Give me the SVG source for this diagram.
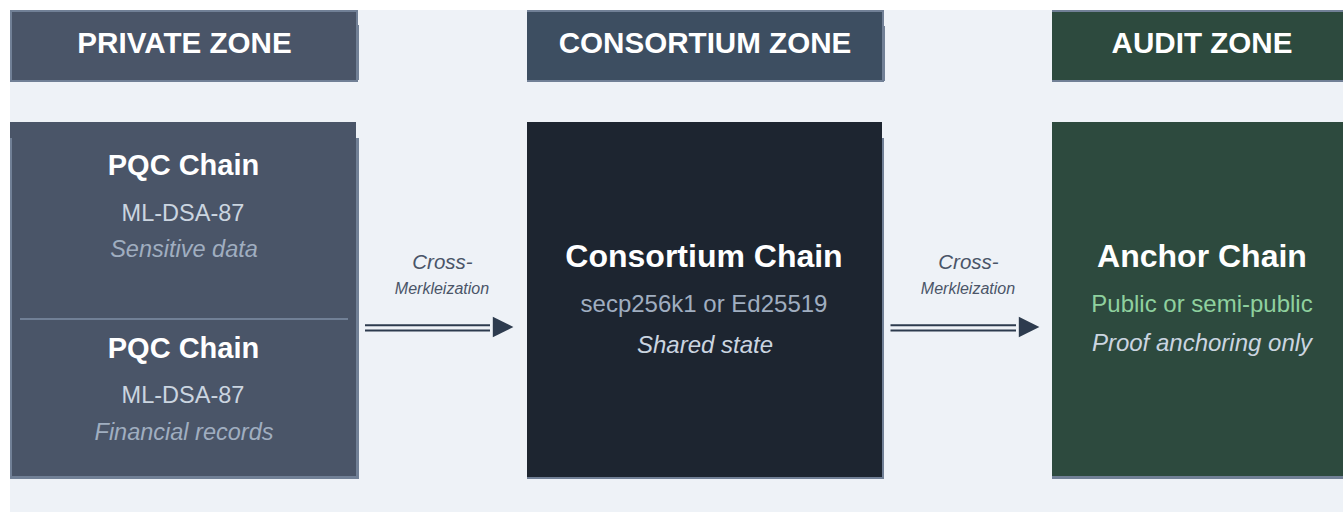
<svg xmlns="http://www.w3.org/2000/svg" width="1343" height="512" viewBox="0 0 1343 512">
  <style>
    text { font-family: "Liberation Sans", Arial, sans-serif; text-anchor: middle; }
    .zone { font-size: 29.6px; font-weight: bold; fill: #ffffff; }
    .title { font-weight: bold; fill: #ffffff; }
    .sub { fill: #cbd5e0; }
    .muted { fill: #a0aec0; }
    .note { font-style: italic; }
    .edge { stroke: #2d3b4e; stroke-width: 2; fill: none; }
    .edge-label { font-style: italic; fill: #4a5568; }
    .rim { fill: #718096; }
  </style>

  <!-- canvas -->
  <rect x="0" y="0" width="1343" height="512" fill="#ffffff"/>
  <rect x="10" y="10" width="1333" height="502" fill="#eef2f7"/>

  <!-- zone headers -->
  <g id="private-zone">
    <rect class="rim" x="10" y="10" width="348" height="72"/>
    <rect class="rim" x="356" y="25" width="3" height="55"/>
    <rect x="12" y="12" width="344" height="68" fill="#4a5568"/>
    <text class="zone" x="184.5" y="53">PRIVATE ZONE</text>
  </g>
  <g id="consortium-zone">
    <rect class="rim" x="527" y="10" width="357" height="72"/>
    <rect class="rim" x="882" y="26" width="3" height="55"/>
    <rect x="527" y="12" width="355" height="68" fill="#3d4e61"/>
    <text class="zone" x="705" y="53">CONSORTIUM ZONE</text>
  </g>
  <g id="audit-zone">
    <rect class="rim" x="1052" y="10" width="300" height="72"/>
    <rect x="1052" y="12" width="300" height="68" fill="#2d4a3e"/>
    <text class="zone" x="1202" y="53">AUDIT ZONE</text>
  </g>

  <!-- chain nodes -->
  <g id="pqc-chains">
    <rect class="rim" x="10" y="138" width="349" height="341"/>
    <rect x="10" y="122" width="346" height="16" fill="#4a5568"/>
    <rect x="12" y="138" width="344" height="338" fill="#4a5568"/>
    <text class="title" x="183.5" y="175" font-size="29">PQC Chain</text>
    <text class="sub" x="183" y="221" font-size="23.5">ML-DSA-87</text>
    <text class="muted note" x="184" y="257" font-size="23.5">Sensitive data</text>
    <rect class="rim" x="20" y="318" width="328" height="2"/>
    <text class="title" x="183.5" y="358" font-size="29">PQC Chain</text>
    <text class="sub" x="183" y="403" font-size="23.5">ML-DSA-87</text>
    <text class="muted note" x="184" y="440" font-size="23.5">Financial records</text>
  </g>
  <g id="consortium-chain">
    <rect class="rim" x="527" y="138" width="357" height="341"/>
    <rect x="527" y="122" width="355" height="355" fill="#1d2530"/>
    <text class="title" x="704" y="266.5" font-size="32">Consortium Chain</text>
    <text class="muted" x="704" y="311.5" font-size="24">secp256k1 or Ed25519</text>
    <text class="sub note" x="705" y="352.5" font-size="24">Shared state</text>
  </g>
  <g id="anchor-chain">
    <rect class="rim" x="1052" y="476" width="300" height="3"/>
    <rect x="1052" y="122" width="300" height="354" fill="#2d4a3e"/>
    <text class="title" x="1202" y="266.5" font-size="32">Anchor Chain</text>
    <text x="1202" y="311.5" font-size="24" fill="#8fd19e">Public or semi-public</text>
    <text class="sub note" x="1202" y="351" font-size="24">Proof anchoring only</text>
  </g>

  <!-- connectors: double shaft with solid head -->
  <g id="connectors">
    <g id="private-to-consortium">
      <text class="edge-label" x="442.5" y="268.5" font-size="20.5">Cross-</text>
      <text class="edge-label" x="442" y="294" font-size="16">Merkleization</text>
      <line class="edge" x1="365" y1="325.2" x2="490" y2="325.2"/>
      <line class="edge" x1="365" y1="330.5" x2="490" y2="330.5"/>
      <path d="M492.8,316.8 L513.4,327 L492.8,337.2 Z" fill="#2d3b4e"/>
    </g>
    <g id="consortium-to-anchor">
      <text class="edge-label" x="968.5" y="268.5" font-size="20.5">Cross-</text>
      <text class="edge-label" x="968" y="294" font-size="16">Merkleization</text>
      <line class="edge" x1="890.5" y1="325.2" x2="1016" y2="325.2"/>
      <line class="edge" x1="890.5" y1="330.5" x2="1016" y2="330.5"/>
      <path d="M1018.8,316.8 L1039.4,327 L1018.8,337.2 Z" fill="#2d3b4e"/>
    </g>
  </g>
</svg>
